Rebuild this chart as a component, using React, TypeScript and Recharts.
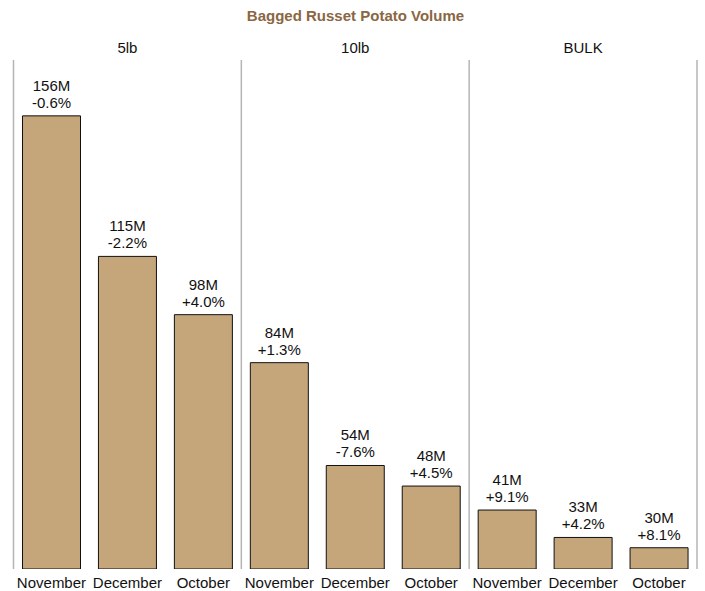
import React from 'react';
import { BarChart, Bar, XAxis, YAxis, ReferenceLine, LabelList } from 'recharts';

const groups = ['5lb', '10lb', 'BULK'];
const months = ['November', 'December', 'October'];
const volumes = [156, 115, 98, 84, 54, 48, 41, 33, 30];
const changes = ['-0.6%', '-2.2%', '+4.0%', '+1.3%', '-7.6%', '+4.5%', '+9.1%', '+4.2%', '+8.1%'];

const data = groups.flatMap((g, gi) =>
  months.map((m, mi) => ({
    key: `${g}|${m}`,
    group: g,
    month: m,
    vol: volumes[gi * 3 + mi],
    change: changes[gi * 3 + mi],
  }))
);

const FONT = '"Liberation Sans", Arial, sans-serif';

const Tick = (props: any) => {
  const { x, y, payload } = props;
  const month = String(payload.value).split('|')[1];
  return (
    <text x={x} y={y + 18.5} textAnchor="middle" fontFamily={FONT} fontSize={15} fill="#111">
      {month}
    </text>
  );
};

const BarLabel = (props: any) => {
  const { x, y, width, index } = props;
  const d = data[index];
  const cx = Number(x) + Number(width) / 2;
  return (
    <g>
      <text x={cx} y={Number(y) - 25} textAnchor="middle" fontFamily={FONT} fontSize={15} fill="#111">
        {`${d.vol}M`}
      </text>
      <text x={cx} y={Number(y) - 8} textAnchor="middle" fontFamily={FONT} fontSize={15} fill="#111">
        {d.change}
      </text>
    </g>
  );
};

export default function App() {
  return (
    <div style={{ position: 'absolute', left: 0, top: 0, width: 705, height: 591, background: '#fff' }}>
      <div
        style={{
          position: 'absolute',
          left: 0,
          top: 7,
          width: 711,
          textAlign: 'center',
          fontFamily: FONT,
          fontWeight: 'bold',
          fontSize: 15,
          color: '#8a6642',
          lineHeight: '18px',
        }}
      >
        Bagged Russet Potato Volume
      </div>
      <BarChart
        width={705}
        height={591}
        data={data}
        margin={{ top: 60, right: 8, bottom: 0, left: 13.5 }}
      >
        <XAxis
          dataKey="key"
          height={22}
          tickLine={false}
          axisLine={false}
          tickSize={0}
          tickMargin={0}
          interval={0}
          tick={<Tick />}
        />
        <YAxis hide domain={[23.8, 172.3]} allowDataOverflow />
        <ReferenceLine x="5lb|November" position="start" stroke="#b5b5b5" strokeWidth={1.5} ifOverflow="visible" />
        <ReferenceLine x="10lb|November" position="start" stroke="#b5b5b5" strokeWidth={1.5} ifOverflow="visible" />
        <ReferenceLine x="BULK|November" position="start" stroke="#b5b5b5" strokeWidth={1.5} ifOverflow="visible" />
        <ReferenceLine x="BULK|October" position="end" stroke="#b5b5b5" strokeWidth={1.5} ifOverflow="visible" />
        {groups.map((g) => (
          <ReferenceLine
            key={g}
            x={`${g}|December`}
            position="middle"
            stroke="none"
            ifOverflow="visible"
            label={{
              value: g,
              position: 'top',
              offset: 7,
              fontFamily: FONT,
              fontSize: 15,
              fill: '#111',
            }}
          />
        ))}
        <Bar dataKey="vol" fill="#c5a57a" stroke="#111" strokeWidth={1} barSize={58} isAnimationActive={false}>
          <LabelList dataKey="vol" content={<BarLabel />} />
        </Bar>
      </BarChart>
    </div>
  );
}
